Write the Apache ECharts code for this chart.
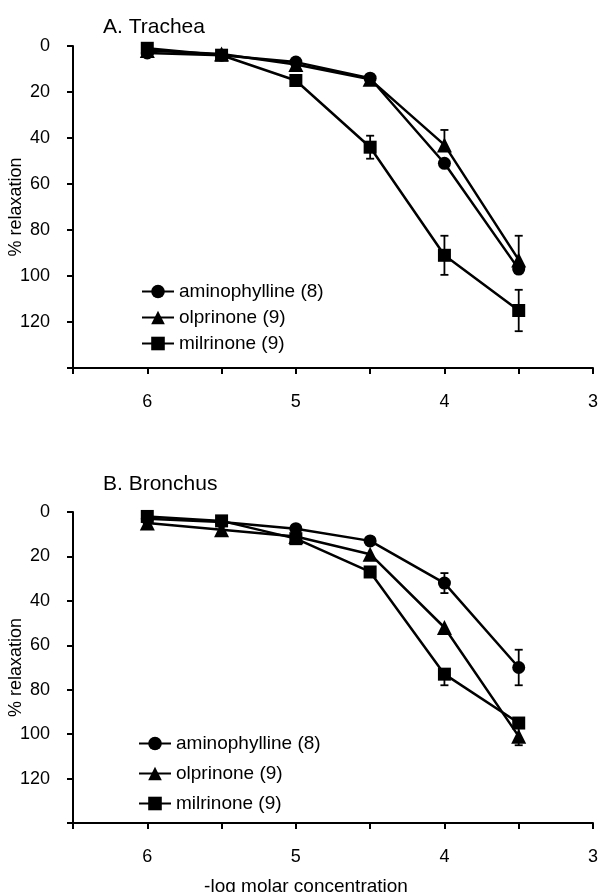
<!DOCTYPE html>
<html>
<head>
<meta charset="utf-8">
<script src="https://cdn.jsdelivr.net/npm/echarts@6/dist/echarts.min.js"></script>
<style>
  html, body { margin: 0; padding: 0; background: #fff; }
  #chart { width: 600px; height: 892px; }
</style>
</head>
<body>
<div id="chart"></div>
<script>
// -log molar concentration
var conc = [6, 5.5, 5, 4.5, 4, 3.5];
var xTickLabels = [6, 5, 4, 3];
var yTickLabels = [0, 20, 40, 60, 80, 100, 120];

var seriesNames = ['aminophylline (8)', 'olprinone (9)', 'milrinone (9)'];
var seriesSymbols = ['circle', 'triangle', 'rect'];

// A. Trachea (% relaxation)
var traAmino = [3, 4, 7, 14, 51, 97];
var traOlp = [2, 3.5, 8, 14.5, 43, 93];
var traMil = [1, 4, 15, 44, 91, 115];
// error bars (drawn up = toward 0, down = toward 140)
var traAminoUp = [0, 0, 0, 0, 0, 0];
var traAminoDown = [0, 0, 0, 0, 0, 0];
var traOlpUp = [0, 0, 0, 0, 6.5, 10.5];
var traOlpDown = [0, 0, 0, 0, 0, 0];
var traMilUp = [0, 0, 0, 5, 8.5, 9];
var traMilDown = [0, 0, 0, 5, 8.5, 9];

// B. Bronchus (% relaxation)
var broAmino = [3, 4.5, 7.5, 13, 32, 70];
var broOlp = [5, 8, 11, 19, 52, 101];
var broMil = [2, 4, 12, 27, 73, 95];
var broAminoUp = [0, 0, 0, 0, 4.5, 8];
var broAminoDown = [0, 0, 0, 0, 4.5, 8];
var broOlpUp = [0, 0, 0, 0, 0, 0];
var broOlpDown = [0, 0, 0, 0, 0, 4];
var broMilUp = [0, 0, 0, 0, 0, 0];
var broMilDown = [0, 0, 0, 0, 5, 8];

var textFont = "'Liberation Sans', Arial, sans-serif";

function lineSeries(name, symbol, values, idx) {
    var data = [];
    for (var i = 0; i < conc.length; i++) {
        data.push([conc[i], values[i]]);
    }
    return {
        name: name,
        type: 'line',
        xAxisIndex: idx,
        yAxisIndex: idx,
        symbol: symbol,
        symbolSize: symbol == 'triangle' ? 15 : 13,
        showSymbol: true,
        color: '#000',
        itemStyle: { color: '#000' },
        lineStyle: { color: '#000', width: 2.5 },
        z: 3,
        data: data
    };
}

function renderErr(params, api) {
    var x = api.value(0), v = api.value(1), up = api.value(2), down = api.value(3);
    if (!up && !down) return;
    var top = api.coord([x, v - up]);
    var bot = api.coord([x, v + down]);
    var half = 4;
    var style = { stroke: '#000', lineWidth: 1.8 };
    var children = [{
        type: 'line',
        shape: { x1: top[0], y1: top[1], x2: bot[0], y2: bot[1] },
        style: style
    }];
    if (up > 0) {
        children.push({ type: 'line', shape: { x1: top[0] - half, y1: top[1], x2: top[0] + half, y2: top[1] }, style: style });
    }
    if (down > 0) {
        children.push({ type: 'line', shape: { x1: bot[0] - half, y1: bot[1], x2: bot[0] + half, y2: bot[1] }, style: style });
    }
    return { type: 'group', children: children };
}

function errSeries(values, up, down, idx) {
    var data = [];
    for (var i = 0; i < conc.length; i++) {
        data.push([conc[i], values[i], up[i], down[i]]);
    }
    return {
        type: 'custom',
        xAxisIndex: idx,
        yAxisIndex: idx,
        renderItem: renderErr,
        silent: true,
        z: 2,
        data: data
    };
}

function xAxisFor(idx) {
    return {
        type: 'value',
        gridIndex: idx,
        min: 3,
        max: 6.5,
        interval: 0.5,
        inverse: true,
        splitLine: { show: false },
        axisLine: { onZero: false, lineStyle: { color: '#000', width: 2 } },
        axisTick: { length: 6, lineStyle: { color: '#000', width: 2 } },
        axisLabel: {
            margin: 25,
            color: '#000',
            fontSize: 18,
            fontFamily: textFont,
            formatter: function (val) {
                return xTickLabels.indexOf(val) >= 0 ? String(val) : '';
            }
        }
    };
}

function yAxisFor(idx) {
    return {
        type: 'value',
        gridIndex: idx,
        min: 0,
        max: 140,
        interval: 20,
        inverse: true,
        name: '% relaxation',
        nameLocation: 'middle',
        nameGap: 48,
        nameMoveOverlap: false,
        nameTextStyle: { color: '#000', fontSize: 18, fontFamily: textFont },
        splitLine: { show: false },
        axisLine: { onZero: false, lineStyle: { color: '#000', width: 2 } },
        axisTick: { length: 6, lineStyle: { color: '#000', width: 2 } },
        axisLabel: {
            margin: 23,
            color: '#000',
            fontSize: 18,
            fontFamily: textFont,
            formatter: function (val) {
                return yTickLabels.indexOf(val) >= 0 ? String(val) : '';
            }
        }
    };
}

function legendFor(left, top, gap) {
    return {
        orient: 'vertical',
        left: left,
        top: top,
        itemGap: gap,
        itemWidth: 32,
        itemHeight: 17,
        selectedMode: false,
        data: seriesNames,
        textStyle: { color: '#000', fontSize: 19, fontFamily: textFont }
    };
}

var chart = echarts.init(document.getElementById('chart'));
var option = {
    backgroundColor: '#fff',
    animation: false,
    title: [
        { text: 'A. Trachea', left: 98, top: 12, textStyle: { color: '#000', fontSize: 21, fontWeight: 'normal', fontFamily: textFont } },
        { text: 'B. Bronchus', left: 98, top: 469, textStyle: { color: '#000', fontSize: 21, fontWeight: 'normal', fontFamily: textFont } },
        { text: '-log molar concentration', left: 301, top: 872, textAlign: 'center', textStyle: { color: '#000', fontSize: 19, fontWeight: 'normal', fontFamily: textFont } }
    ],
    legend: [
        legendFor(136, 277, 7),
        legendFor(133, 729, 11)
    ],
    grid: [
        { left: 73, right: 7, top: 46, height: 322, containLabel: false, outerBoundsMode: 'none' },
        { left: 73, right: 7, top: 512, height: 311, containLabel: false, outerBoundsMode: 'none' }
    ],
    xAxis: [xAxisFor(0), xAxisFor(1)],
    yAxis: [yAxisFor(0), yAxisFor(1)],
    series: [
        errSeries(traAmino, traAminoUp, traAminoDown, 0),
        errSeries(traOlp, traOlpUp, traOlpDown, 0),
        errSeries(traMil, traMilUp, traMilDown, 0),
        lineSeries(seriesNames[0], seriesSymbols[0], traAmino, 0),
        lineSeries(seriesNames[1], seriesSymbols[1], traOlp, 0),
        lineSeries(seriesNames[2], seriesSymbols[2], traMil, 0),
        errSeries(broAmino, broAminoUp, broAminoDown, 1),
        errSeries(broOlp, broOlpUp, broOlpDown, 1),
        errSeries(broMil, broMilUp, broMilDown, 1),
        lineSeries(seriesNames[0], seriesSymbols[0], broAmino, 1),
        lineSeries(seriesNames[1], seriesSymbols[1], broOlp, 1),
        lineSeries(seriesNames[2], seriesSymbols[2], broMil, 1)
    ]
};
chart.setOption(option);
</script>
</body>
</html>
